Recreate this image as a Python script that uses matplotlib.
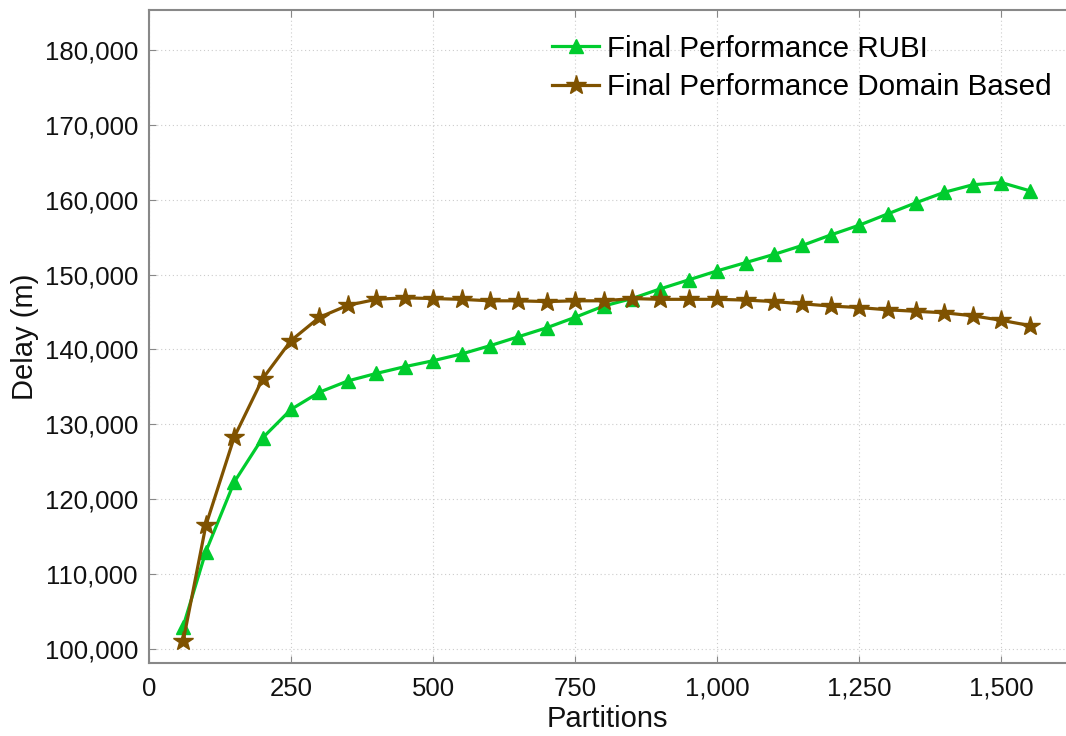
import matplotlib
matplotlib.use("Agg")
import matplotlib.pyplot as plt
from matplotlib.ticker import FuncFormatter, MultipleLocator

plt.rcParams['font.family'] = ['Liberation Sans', 'DejaVu Sans']

# Partitions (x) et délais (y)
partitions = [60, 100, 150, 200, 250, 300, 350, 400, 450, 500, 550, 600, 650, 700, 750,
              800, 850, 900, 950, 1000, 1050, 1100, 1150, 1200, 1250, 1300, 1350, 1400,
              1450, 1500, 1550]
rubi = [103000, 113000, 122300, 128200, 132000, 134300, 135800, 136800, 137700, 138500,
        139400, 140500, 141700, 142900, 144300, 145800, 146800, 148100, 149300, 150500,
        151600, 152700, 153900, 155300, 156600, 158100, 159600, 161000, 162000, 162300,
        161200]
domain = [101000, 116500, 128300, 136100, 141200, 144300, 145900, 146700, 146900, 146800,
          146700, 146500, 146500, 146400, 146500, 146500, 146800, 146700, 146700, 146700,
          146600, 146400, 146100, 145800, 145600, 145300, 145100, 144900, 144500, 143900,
          143200]

label_rubi = 'Final Performance RUBI'
label_domain = 'Final Performance Domain Based'

fig = plt.figure(figsize=(10.66, 7.36), dpi=100)
ax = fig.add_axes([0.1398, 0.0992, 0.8602, 0.8872])

ax.plot(partitions, rubi, color='#00CC2E', lw=2.3, marker='^', markersize=10.5,
        label=label_rubi, zorder=3)
ax.plot(partitions, domain, color='#7F5200', lw=2.3, marker='*', markersize=15,
        label=label_domain, zorder=3)

ax.set_xlim(0, 1614)
ax.set_ylim(98130, 185340)
ax.xaxis.set_major_locator(MultipleLocator(250))
ax.yaxis.set_major_locator(MultipleLocator(10000))
fmt = FuncFormatter(lambda v, p: f'{int(v):,}')
ax.xaxis.set_major_formatter(fmt)
ax.yaxis.set_major_formatter(fmt)

ax.grid(True, color='#cccccc', linestyle=(0, (1, 2.5)), linewidth=0.8)
for s in ax.spines.values():
    s.set_color('#888888')
    s.set_linewidth(1.5)
ax.spines['right'].set_visible(False)
ax.tick_params(axis='both', direction='in', length=5, color='#888888',
               labelsize=18.5, labelcolor='#111111')
ax.tick_params(axis='x', top=True, pad=10)
ax.tick_params(axis='y', pad=8)

ax.set_xlabel('Partitions', fontsize=21, color='#111111', labelpad=3)
ax.set_ylabel('Delay (m)', fontsize=21, color='#111111', labelpad=4)

leg = ax.legend(loc='upper right', frameon=False, fontsize=21.3, handlelength=1.6,
                handletextpad=0.25, labelspacing=0.35, borderpad=0,
                bbox_to_anchor=(1.0, 0.985))

fig.savefig('out.png', dpi=100)
